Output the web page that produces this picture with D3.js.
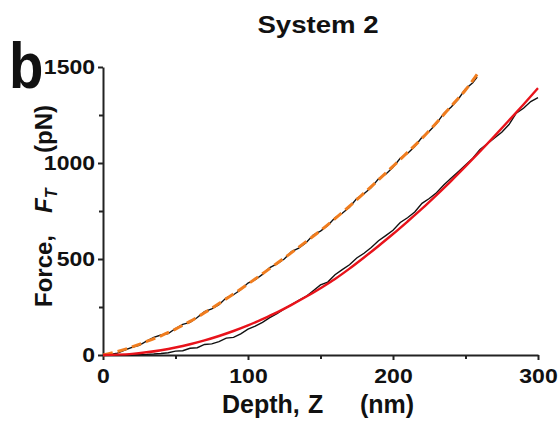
<!DOCTYPE html>
<html lang="en">
<head>
    <meta charset="UTF-8">
    <title>System 2</title>
    <script src="https://d3js.org/d3.v7.min.js"></script>
    <style>
        body { margin: 0; background: #fff; }
        svg text { font-family: "Liberation Sans", Arial, sans-serif; font-weight: bold; fill: #111; }
        .sx { transform-box: fill-box; transform-origin: center; transform: scaleX(1.15); }
        .ytick text { transform-box: fill-box; transform-origin: right center; transform: scaleX(1.15); }
        .narrow { transform-box: fill-box; transform-origin: left center; transform: scaleX(0.88); }
        .axis path, .axis line { stroke: #222; stroke-width: 2; }
    </style>
</head>
<body>
    <div id="chart"></div>
    <script>
        const upperDepth = [0, 5, 10, 15, 20, 25, 30, 35, 40, 45, 50, 55, 60, 65, 70, 75, 80, 85, 90, 95,
            100, 105, 110, 115, 120, 125, 130, 135, 140, 145, 150, 155, 160, 165, 170, 175, 180, 185, 190, 195,
            200, 205, 210, 215, 220, 225, 230, 235, 240, 245, 250, 255, 258];
        const upperForce = [0, 3, 10, 26, 40, 50, 72, 92, 104, 112, 138, 160, 170, 195, 226, 240, 262, 298, 314, 340,
            375, 392, 420, 455, 474, 500, 538, 556, 585, 625, 645, 674, 715, 738, 770, 815, 840, 872, 918, 942,
            978, 1024, 1050, 1086, 1134, 1165, 1205, 1258, 1290, 1332, 1386, 1418, 1448];

        const lowerDepth = [0, 5, 10, 15, 20, 25, 30, 35, 40, 45, 50, 55, 60, 65, 70, 75, 80, 85, 90, 95,
            100, 105, 110, 115, 120, 125, 130, 135, 140, 145, 150, 155, 160, 165, 170, 175, 180, 185, 190, 195,
            200, 205, 210, 215, 220, 225, 230, 235, 240, 245, 250, 255, 260, 265, 270, 275, 280, 285, 290, 295, 300];
        const lowerForce = [0, 0, -2, 0, 0, 2, 3, 5, 8, 12, 20, 22, 35, 38, 55, 58, 70, 88, 92, 110,
            135, 150, 170, 195, 215, 240, 262, 285, 305, 335, 365, 380, 418, 445, 470, 505, 530, 560, 595, 622,
            650, 690, 715, 745, 790, 815, 845, 885, 920, 955, 990, 1025, 1070, 1100, 1130, 1160, 1200, 1260, 1285, 1320, 1340];

        // fitted curves
        const orangeDepth = [0, 10, 20, 30, 40, 50, 60, 70, 80, 90, 100, 110, 120, 130, 140, 150, 160, 170, 180,
            190, 200, 210, 220, 230, 240, 250, 258];
        const orangeForce = [0, 18, 42, 70, 100, 135, 175, 220, 268, 318, 370, 423, 478, 533, 590, 648, 710, 775, 843,
            912, 983, 1055, 1128, 1210, 1295, 1380, 1462];

        const redDepth = [0, 10, 20, 30, 40, 50, 60, 70, 80, 90, 100, 110, 120, 130, 140, 150, 160, 170, 180, 190,
            200, 210, 220, 230, 240, 250, 260, 270, 280, 290, 300];
        const redForce = [0, 2, 6, 14, 25, 39, 56, 76, 99, 125, 154, 187, 222, 261, 303, 348, 396, 450, 508, 568,
            630, 695, 762, 833, 906, 982, 1060, 1140, 1222, 1305, 1390];

        const xTicks = [0, 100, 200, 300];
        const xMinor = [50, 150, 250];
        const yTicks = [0, 500, 1000, 1500];
        const yMinor = [250, 750, 1250];

        const width = 560, height = 427;
        const x = d3.scaleLinear().domain([0, 300]).range([103, 538]);
        const y = d3.scaleLinear().domain([0, 1500]).range([355, 67]);

        const svg = d3.select("#chart").append("svg")
            .attr("width", width)
            .attr("height", height);

        // minor ticks
        svg.append("g").attr("class", "axis")
            .attr("transform", "translate(0,355)")
            .call(d3.axisBottom(x).tickValues(xMinor).tickSize(4).tickFormat(""))
            .select(".domain").remove();
        svg.append("g").attr("class", "axis")
            .attr("transform", "translate(103,0)")
            .call(d3.axisLeft(y).tickValues(yMinor).tickSize(4).tickFormat(""))
            .select(".domain").remove();

        // major axes
        const xAxis = svg.append("g").attr("class", "axis")
            .attr("transform", "translate(0,355)")
            .call(d3.axisBottom(x).tickValues(xTicks).tickFormat(d3.format("d"))
                .tickSize(5).tickSizeOuter(0).tickPadding(9));
        xAxis.selectAll("text").attr("class", "sx").style("font-size", "20px");

        const yAxis = svg.append("g").attr("class", "axis ytick")
            .attr("transform", "translate(103,0)")
            .call(d3.axisLeft(y).tickValues(yTicks).tickFormat(d3.format("d"))
                .tickSize(5).tickSizeOuter(0).tickPadding(3));
        yAxis.selectAll("text").style("font-size", "20px");

        const line = (xs, ys, curve) => d3.line()
            .x((d, i) => x(xs[i]))
            .y((d, i) => y(ys[i]))
            .curve(curve)(xs);

        // black data
        svg.append("path")
            .attr("d", line(upperDepth, upperForce, d3.curveLinear))
            .attr("fill", "none").attr("stroke", "#111").attr("stroke-width", 1.4);
        svg.append("path")
            .attr("d", line(lowerDepth, lowerForce, d3.curveLinear))
            .attr("fill", "none").attr("stroke", "#111").attr("stroke-width", 1.4);

        // fits
        svg.append("path")
            .attr("d", line(orangeDepth, orangeForce, d3.curveMonotoneX))
            .attr("fill", "none").attr("stroke", "#f07d1f").attr("stroke-width", 3)
            .attr("stroke-dasharray", "10,5");
        svg.append("path")
            .attr("d", line(redDepth, redForce, d3.curveMonotoneX))
            .attr("fill", "none").attr("stroke", "#e8131b").attr("stroke-width", 2.4);

        // title and panel letter
        svg.append("text")
            .attr("class", "sx")
            .attr("x", 318).attr("y", 33)
            .attr("text-anchor", "middle")
            .style("font-size", "24px")
            .text("System 2");

        svg.append("text")
            .attr("class", "narrow")
            .attr("x", 9).attr("y", 88)
            .style("font-size", "64px")
            .text("b");

        // x label
        const xl = svg.append("text")
            .attr("y", 413)
            .style("font-size", "25px");
        xl.append("tspan").attr("x", 222).text("Depth,");
        xl.append("tspan").attr("x", 308).text("Z");
        xl.append("tspan").attr("x", 360).text("(nm)");

        // y label
        const yl = svg.append("text")
            .attr("transform", "translate(52,0) rotate(-90)")
            .style("font-size", "24px");
        yl.append("tspan").attr("x", -307).text("Force,");
        yl.append("tspan").attr("x", -213).style("font-style", "italic").text("F");
        yl.append("tspan").attr("dy", 5).style("font-style", "italic").style("font-size", "16px").text("T");
        yl.append("tspan").attr("x", -153).attr("dy", -5).text("(pN)");
    </script>
</body>
</html>
